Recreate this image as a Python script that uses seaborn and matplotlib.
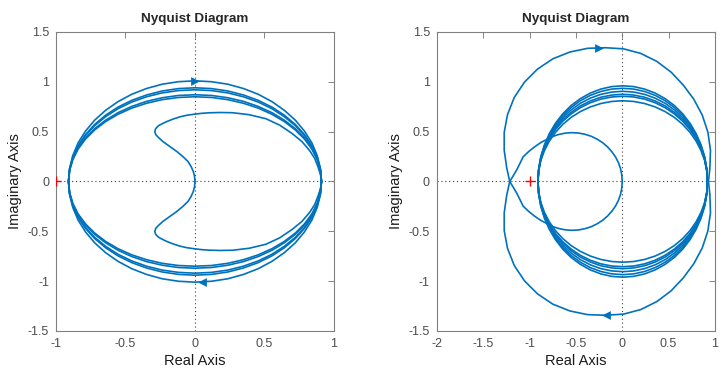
import matplotlib
matplotlib.use('Agg')
import matplotlib.pyplot as plt
import numpy as np
import seaborn as sns

sns.set_style('white')
plt.rcParams['font.family'] = ['Liberation Sans', 'DejaVu Sans']

BLUE = '#0072BD'

# left panel: upper halves only, the lower halves are the mirrored branch
left_loop_x = [0.91, 0.902, 0.879, 0.841, 0.788, 0.722, 0.643, 0.554, 0.455, 0.348, 0.236, 0.119, 0.0,
               -0.119, -0.236, -0.348, -0.455, -0.554, -0.643, -0.722, -0.788, -0.841, -0.879, -0.902, -0.91]
left_loop_1 = [0, 0.132, 0.261, 0.387, 0.505, 0.615, 0.714, 0.801, 0.875, 0.933, 0.976, 1.001, 1.01,
               1.001, 0.976, 0.933, 0.875, 0.801, 0.714, 0.615, 0.505, 0.387, 0.261, 0.132, 0]
left_loop_2 = [0, 0.123, 0.243, 0.360, 0.47, 0.572, 0.665, 0.746, 0.814, 0.868, 0.908, 0.932, 0.94,
               0.932, 0.908, 0.868, 0.814, 0.746, 0.665, 0.572, 0.47, 0.360, 0.243, 0.123, 0]
left_loop_3 = [0, 0.120, 0.238, 0.352, 0.46, 0.560, 0.650, 0.730, 0.797, 0.850, 0.889, 0.912, 0.92,
               0.912, 0.889, 0.850, 0.797, 0.730, 0.650, 0.560, 0.46, 0.352, 0.238, 0.120, 0]
left_loop_4 = [0, 0.114, 0.225, 0.333, 0.435, 0.530, 0.615, 0.690, 0.753, 0.804, 0.840, 0.863, 0.87,
               0.863, 0.840, 0.804, 0.753, 0.690, 0.615, 0.530, 0.435, 0.333, 0.225, 0.114, 0]
left_loop_5 = [0, 0.111, 0.220, 0.325, 0.425, 0.517, 0.601, 0.674, 0.736, 0.785, 0.821, 0.843, 0.85,
               0.843, 0.821, 0.785, 0.736, 0.674, 0.601, 0.517, 0.425, 0.325, 0.220, 0.111, 0]
crescent_x = [0, -0.003, -0.012, -0.028, -0.05, -0.087, -0.13, -0.18, -0.23, -0.262, -0.282, -0.289,
              -0.283, -0.262, -0.235, -0.205, -0.16, -0.11, -0.06, 0.0, 0.05, 0.1, 0.18, 0.27, 0.39,
              0.51, 0.61, 0.70, 0.77, 0.825, 0.862, 0.885, 0.903, 0.91]
crescent_y = [0, 0.05, 0.1, 0.15, 0.2, 0.25, 0.3, 0.35, 0.4, 0.44, 0.47, 0.5,
              0.53, 0.56, 0.58, 0.60, 0.625, 0.648, 0.664, 0.676, 0.684, 0.689, 0.692, 0.69, 0.67,
              0.63, 0.565, 0.48, 0.40, 0.31, 0.23, 0.146, 0.07, 0]
left_arrows_x = [0.0, 0.047]
left_arrows_y = [1.013, -1.01]

# right panel
right_loop_x = [0.92, 0.912, 0.889, 0.850, 0.797, 0.731, 0.652, 0.562, 0.463, 0.355, 0.242, 0.124, 0.005,
                -0.114, -0.232, -0.345, -0.453, -0.552, -0.642, -0.721, -0.787, -0.840, -0.879, -0.902, -0.91]
right_loop_1 = [0, 0.125, 0.248, 0.367, 0.48, 0.584, 0.679, 0.762, 0.831, 0.887, 0.927, 0.952, 0.96,
                0.952, 0.927, 0.887, 0.831, 0.762, 0.679, 0.584, 0.48, 0.367, 0.248, 0.125, 0]
right_loop_2 = [0, 0.122, 0.242, 0.358, 0.468, 0.569, 0.661, 0.742, 0.810, 0.864, 0.903, 0.927, 0.935,
                0.927, 0.903, 0.864, 0.810, 0.742, 0.661, 0.569, 0.468, 0.358, 0.242, 0.122, 0]
right_loop_3 = [0, 0.118, 0.234, 0.346, 0.453, 0.551, 0.640, 0.718, 0.784, 0.836, 0.874, 0.897, 0.905,
                0.897, 0.874, 0.836, 0.784, 0.718, 0.640, 0.551, 0.453, 0.346, 0.234, 0.118, 0]
right_loop_4 = [0, 0.114, 0.226, 0.335, 0.438, 0.533, 0.619, 0.694, 0.758, 0.808, 0.845, 0.867, 0.875,
                0.867, 0.845, 0.808, 0.758, 0.694, 0.619, 0.533, 0.438, 0.335, 0.226, 0.114, 0]
right_loop_5 = [0, 0.112, 0.221, 0.327, 0.428, 0.521, 0.605, 0.678, 0.740, 0.790, 0.826, 0.848, 0.855,
                0.848, 0.826, 0.790, 0.740, 0.678, 0.605, 0.521, 0.428, 0.327, 0.221, 0.112, 0]
right_loop_6 = [0, 0.106, 0.210, 0.310, 0.405, 0.493, 0.573, 0.643, 0.701, 0.748, 0.782, 0.803, 0.81,
                0.803, 0.782, 0.748, 0.701, 0.643, 0.573, 0.493, 0.405, 0.310, 0.210, 0.106, 0]
small_x = [0, -0.005, -0.018, -0.041, -0.072, -0.112, -0.158, -0.211, -0.27, -0.333, -0.40, -0.47, -0.54,
           -0.61, -0.68, -0.747, -0.81, -0.88, -0.95, -1.01, -1.07, -1.105, -1.14, -1.177, -1.214]
small_y = [0, 0.064, 0.127, 0.188, 0.245, 0.298, 0.346, 0.389, 0.424, 0.453, 0.473, 0.486, 0.49,
           0.486, 0.473, 0.453, 0.424, 0.39, 0.345, 0.30, 0.247, 0.18, 0.115, 0.057, 0]
big_x = [-1.214, -1.247, -1.274, -1.274, -1.238, -1.165, -1.055, -0.914, -0.749, -0.565, -0.374, -0.18,
         0.013, 0.199, 0.373, 0.527, 0.658, 0.772, 0.863, 0.924, 0.952, 0.945, 0.93]
big_y = [0, 0.138, 0.314, 0.493, 0.672, 0.844, 0.997, 1.128, 1.231, 1.299, 1.336, 1.342,
         1.331, 1.285, 1.205, 1.097, 0.968, 0.825, 0.667, 0.495, 0.314, 0.129, 0]
right_arrows_x = [-0.255, -0.18]
right_arrows_y = [1.34, -1.34]

y_ticks = [-1.5, -1, -0.5, 0, 0.5, 1, 1.5]
y_labels = ['-1.5', '-1', '-0.5', '0', '0.5', '1', '1.5']
left_x_ticks = [-1, -0.5, 0, 0.5, 1]
left_x_labels = ['-1', '-0.5', '0', '0.5', '1']
right_x_ticks = [-2, -1.5, -1, -0.5, 0, 0.5, 1]
right_x_labels = ['-2', '-1.5', '-1', '-0.5', '0', '0.5', '1']


def draw_branch(ax, xs, ys):
    xs = np.asarray(xs, dtype=float)
    ys = np.asarray(ys, dtype=float)
    for sign in (1, -1):  # positive and negative frequencies
        sns.lineplot(x=xs, y=sign * ys, ax=ax, sort=False, estimator=None,
                     color=BLUE, linewidth=1.2)


def draw_arrows(ax, xs, ys):
    sns.scatterplot(x=xs[:1], y=ys[:1], ax=ax, marker='>', color=BLUE, s=40, linewidth=0, zorder=4)
    sns.scatterplot(x=xs[1:], y=ys[1:], ax=ax, marker='<', color=BLUE, s=40, linewidth=0, zorder=4)


def style_axes(ax, xlim, xticks, xlabels):
    ax.axhline(0, color='0.25', linestyle=(0, (1, 2.5)), linewidth=0.8, zorder=0)
    ax.axvline(0, color='0.25', linestyle=(0, (1, 2.5)), linewidth=0.8, zorder=0)
    sns.scatterplot(x=[-1], y=[0], ax=ax, marker='+', color='red', s=55, linewidth=1.0, zorder=5)
    ax.set_xlim(*xlim)
    ax.set_ylim(-1.5, 1.5)
    ax.set_xticks(xticks)
    ax.set_xticklabels(xlabels)
    ax.set_yticks(y_ticks)
    ax.set_yticklabels(y_labels)
    ax.tick_params(direction='in', length=4, width=0.6, colors='0.45', labelcolor='0.3',
                   labelsize=9, top=True, right=True, pad=5)
    for sp in ax.spines.values():
        sp.set_color('0.5')
        sp.set_linewidth(0.8)
    ax.set_title('Nyquist Diagram', fontsize=9.7, fontweight='bold', pad=7)
    ax.set_xlabel('Real Axis', fontsize=10.5, color='0.1', labelpad=3)
    ax.set_ylabel('Imaginary Axis', fontsize=10.5, color='0.1', labelpad=4)


fig = plt.figure(figsize=(7.27, 3.74), dpi=100)
ax1 = fig.add_axes([0.077, 0.115, 0.3824, 0.7995])
ax2 = fig.add_axes([0.601, 0.115, 0.3824, 0.7995])

for loop in [left_loop_1, left_loop_2, left_loop_3, left_loop_4, left_loop_5]:
    draw_branch(ax1, left_loop_x, loop)
draw_branch(ax1, crescent_x, crescent_y)
draw_arrows(ax1, left_arrows_x, left_arrows_y)
style_axes(ax1, (-1, 1), left_x_ticks, left_x_labels)

for loop in [right_loop_1, right_loop_2, right_loop_3, right_loop_4, right_loop_5, right_loop_6]:
    draw_branch(ax2, right_loop_x, loop)
draw_branch(ax2, small_x, small_y)
draw_branch(ax2, big_x, big_y)
draw_arrows(ax2, right_arrows_x, right_arrows_y)
style_axes(ax2, (-2, 1), right_x_ticks, right_x_labels)

fig.savefig('out.png', dpi=100)
